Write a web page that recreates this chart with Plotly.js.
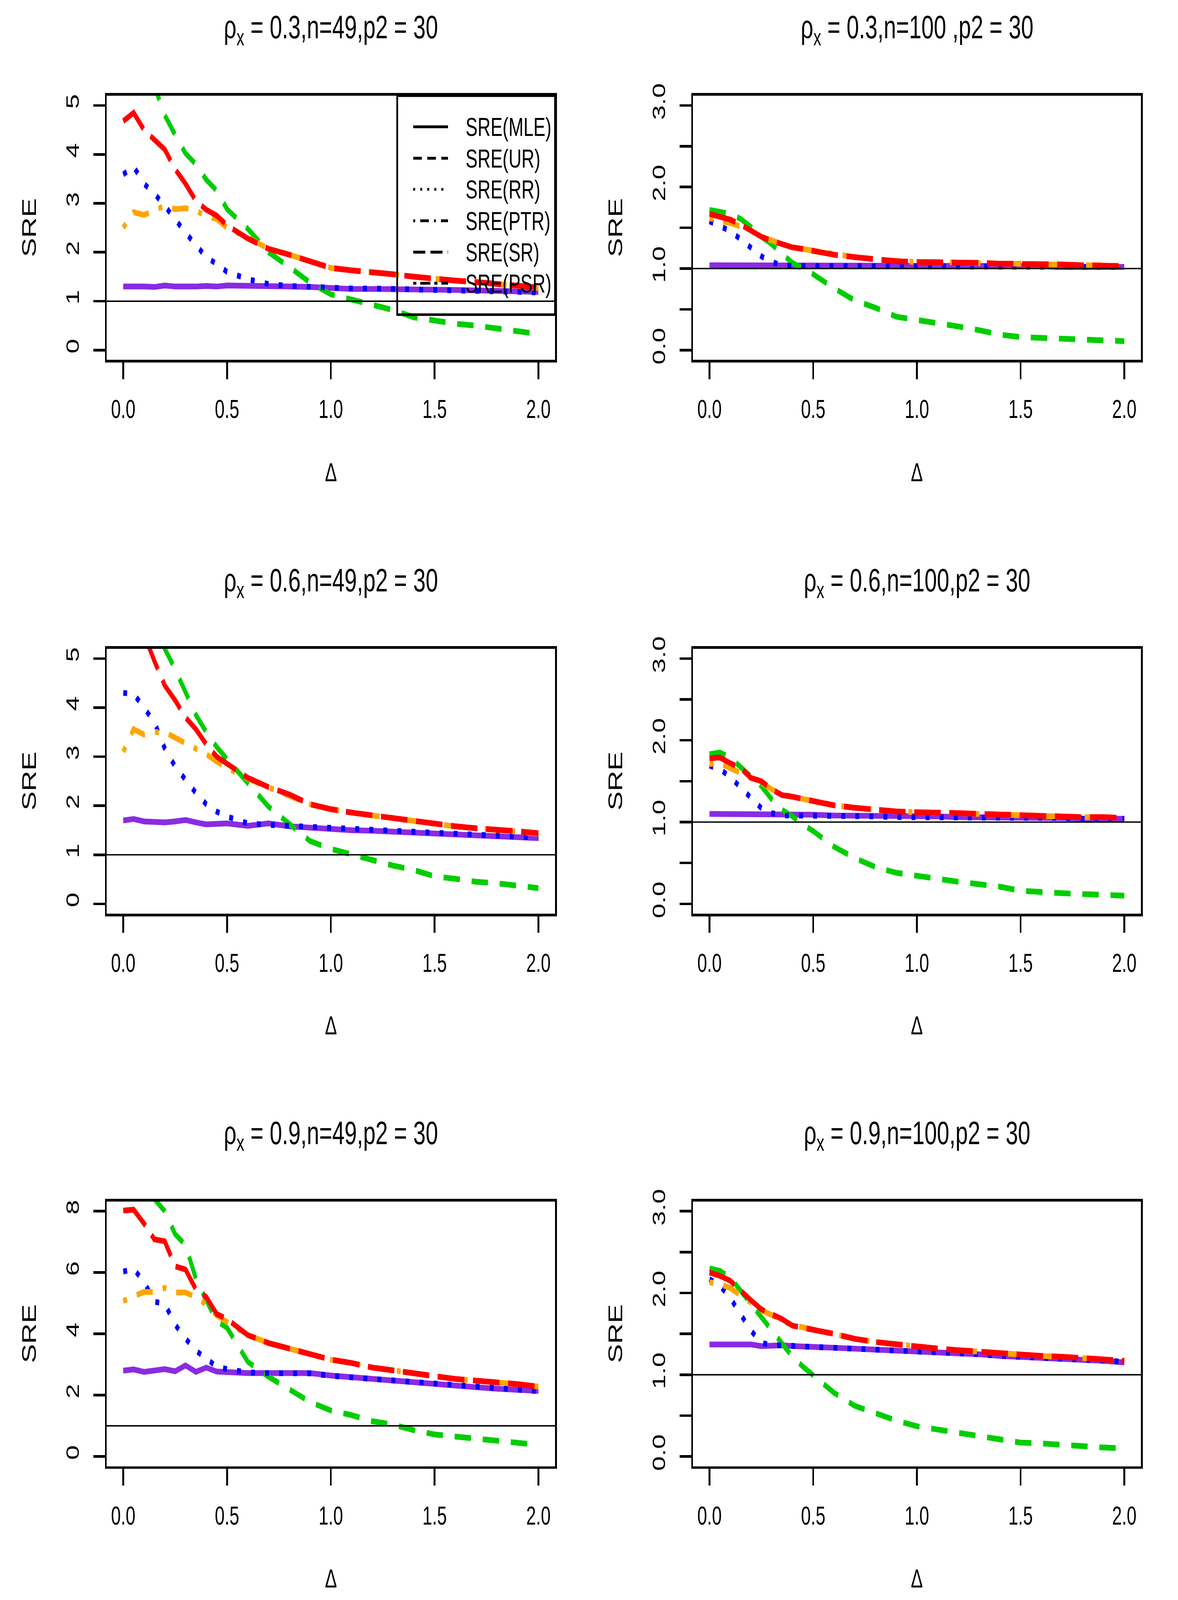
<!DOCTYPE html>
<html>
<head>
<meta charset="utf-8">
<script src="https://cdn.plot.ly/plotly-3.0.1.min.js"></script>
<style>
    html { margin: 0; padding: 0; overflow: hidden; background: #ffffff; }
    body { margin: 0; padding: 0; background: #ffffff; }
    #chart { position: absolute; left: 0; top: 0; width: 3016px; height: 2790px; transform-origin: 0 0; }
</style>
</head>
<body>
<div id="chart"></div>
<script>
// shift parameter on the x axis
const delta = [0, 0.05, 0.1, 0.15, 0.2, 0.25, 0.3, 0.35, 0.4, 0.45, 0.5,
    0.6, 0.7, 0.8, 0.9, 1.0, 1.1, 1.2, 1.3, 1.4, 1.5, 1.6, 1.7, 1.8, 1.9, 2.0];

const panelTitles = [
    'ρ<sub>x</sub> = 0.3,n=49,p2 = 30',
    'ρ<sub>x</sub> = 0.3,n=100 ,p2 = 30',
    'ρ<sub>x</sub> = 0.6,n=49,p2 = 30',
    'ρ<sub>x</sub> = 0.6,n=100,p2 = 30',
    'ρ<sub>x</sub> = 0.9,n=49,p2 = 30',
    'ρ<sub>x</sub> = 0.9,n=100,p2 = 30'
];

const legendNames = ['SRE(MLE)', 'SRE(UR)', 'SRE(RR)', 'SRE(PTR)', 'SRE(SR)', 'SRE(PSR)'];

const xTickVals = [0, 0.5, 1, 1.5, 2];
const xTickText = ['0.0', '0.5', '1.0', '1.5', '2.0'];
const yTickVals5 = [0, 1, 2, 3, 4, 5];
const yTickText5 = ['0', '1', '2', '3', '4', '5'];
const yTickVals8 = [0, 2, 4, 6, 8];
const yTickText8 = ['0', '2', '4', '6', '8'];
const yTickVals3 = [0, 1, 2, 3];
const yTickText3 = ['0.0', '1.0', '2.0', '3.0'];
const yMinorStep3 = 0.5;
const refLevel = 1;

// rho = 0.3, n = 49
const mle1 = [1.30, 1.31, 1.30, 1.29, 1.32, 1.30, 1.29, 1.30, 1.31, 1.30, 1.32, 1.32, 1.31, 1.30, 1.29, 1.26, 1.25, 1.25, 1.25, 1.25, 1.24, 1.23, 1.22, 1.21, 1.20, 1.19];
const ur1 = [7.0, 6.4, 5.9, 5.4, 4.8, 4.4, 4.02, 3.8, 3.48, 3.26, 2.88, 2.48, 2.0, 1.7, 1.38, 1.14, 1.03, 0.94, 0.82, 0.67, 0.6, 0.54, 0.5, 0.45, 0.4, 0.33];
const rr1 = [3.59, 3.75, 3.40, 3.20, 2.95, 2.67, 2.40, 2.15, 1.90, 1.76, 1.60, 1.45, 1.35, 1.31, 1.29, 1.27, 1.26, 1.26, 1.25, 1.25, 1.24, 1.23, 1.23, 1.22, 1.20, 1.18];
const ptr1 = [2.50, 2.82, 2.76, 2.85, 2.95, 2.88, 2.90, 2.85, 2.74, 2.68, 2.50, 2.30, 2.07, 1.95, 1.80, 1.68, 1.63, 1.60, 1.55, 1.50, 1.45, 1.42, 1.39, 1.35, 1.32, 1.27];
const sr1 = [4.68, 4.85, 4.50, 4.30, 4.10, 3.70, 3.40, 3.05, 2.87, 2.75, 2.55, 2.28, 2.07, 1.95, 1.80, 1.68, 1.63, 1.60, 1.55, 1.50, 1.45, 1.42, 1.39, 1.35, 1.32, 1.28];

// rho = 0.3, n = 100
const mle2 = [1.04, 1.04, 1.04, 1.04, 1.04, 1.04, 1.04, 1.04, 1.04, 1.04, 1.04, 1.04, 1.04, 1.04, 1.03, 1.03, 1.03, 1.03, 1.03, 1.03, 1.03, 1.03, 1.02, 1.02, 1.02, 1.02];
const ur2 = [1.72, 1.70, 1.67, 1.61, 1.51, 1.39, 1.30, 1.18, 1.07, 1.00, 0.93, 0.76, 0.61, 0.52, 0.41, 0.37, 0.335, 0.29, 0.245, 0.19, 0.16, 0.15, 0.14, 0.12, 0.115, 0.11];
const rr2 = [1.58, 1.52, 1.46, 1.36, 1.25, 1.15, 1.08, 1.04, 1.03, 1.03, 1.03, 1.03, 1.03, 1.03, 1.03, 1.03, 1.03, 1.03, 1.03, 1.03, 1.02, 1.02, 1.02, 1.02, 1.02, 1.02];
const ptr2 = [1.62, 1.58, 1.56, 1.52, 1.47, 1.39, 1.34, 1.30, 1.26, 1.24, 1.215, 1.17, 1.14, 1.11, 1.09, 1.08, 1.08, 1.07, 1.07, 1.06, 1.06, 1.05, 1.05, 1.04, 1.04, 1.03];
const sr2 = [1.67, 1.64, 1.60, 1.54, 1.47, 1.39, 1.34, 1.30, 1.26, 1.24, 1.215, 1.17, 1.14, 1.11, 1.09, 1.08, 1.08, 1.07, 1.07, 1.06, 1.06, 1.05, 1.05, 1.04, 1.04, 1.03];

// rho = 0.6, n = 49
const mle3 = [1.70, 1.73, 1.68, 1.67, 1.66, 1.68, 1.71, 1.66, 1.62, 1.63, 1.64, 1.59, 1.64, 1.58, 1.55, 1.52, 1.50, 1.49, 1.47, 1.45, 1.43, 1.41, 1.39, 1.37, 1.36, 1.34];
const ur3 = [7.5, 7.0, 6.4, 5.8, 5.2, 4.78, 4.30, 3.85, 3.50, 3.20, 2.95, 2.47, 1.98, 1.63, 1.28, 1.12, 1.00, 0.88, 0.78, 0.69, 0.56, 0.51, 0.45, 0.42, 0.36, 0.32];
const rr3 = [4.30, 4.28, 4.00, 3.70, 3.17, 2.80, 2.53, 2.26, 2.03, 1.88, 1.78, 1.64, 1.61, 1.59, 1.56, 1.53, 1.51, 1.49, 1.47, 1.45, 1.44, 1.42, 1.40, 1.38, 1.36, 1.35];
const ptr3 = [3.10, 3.56, 3.45, 3.50, 3.50, 3.39, 3.29, 3.18, 3.05, 2.90, 2.77, 2.55, 2.38, 2.23, 2.03, 1.93, 1.86, 1.80, 1.75, 1.68, 1.63, 1.58, 1.54, 1.51, 1.47, 1.43];
const sr3 = [6.30, 5.90, 5.50, 4.95, 4.45, 4.15, 3.80, 3.56, 3.25, 3.00, 2.86, 2.57, 2.38, 2.23, 2.03, 1.93, 1.86, 1.80, 1.75, 1.68, 1.63, 1.58, 1.54, 1.52, 1.48, 1.44];

// rho = 0.6, n = 100
const mle4 = [1.10, 1.10, 1.10, 1.10, 1.10, 1.10, 1.09, 1.09, 1.09, 1.09, 1.09, 1.08, 1.08, 1.08, 1.07, 1.07, 1.07, 1.06, 1.06, 1.06, 1.05, 1.05, 1.05, 1.04, 1.04, 1.04];
const ur4 = [1.83, 1.85, 1.79, 1.68, 1.56, 1.44, 1.28, 1.15, 1.07, 0.97, 0.89, 0.70, 0.56, 0.45, 0.38, 0.34, 0.30, 0.27, 0.24, 0.21, 0.16, 0.14, 0.13, 0.12, 0.11, 0.10];
const rr4 = [1.69, 1.65, 1.55, 1.42, 1.28, 1.17, 1.11, 1.08, 1.08, 1.08, 1.08, 1.07, 1.07, 1.07, 1.06, 1.06, 1.06, 1.06, 1.05, 1.05, 1.05, 1.05, 1.05, 1.04, 1.04, 1.04];
const ptr4 = [1.71, 1.72, 1.66, 1.60, 1.54, 1.48, 1.40, 1.34, 1.31, 1.28, 1.255, 1.205, 1.175, 1.15, 1.13, 1.12, 1.12, 1.11, 1.10, 1.09, 1.08, 1.07, 1.07, 1.06, 1.06, 1.05];
const sr4 = [1.78, 1.79, 1.72, 1.66, 1.54, 1.50, 1.40, 1.33, 1.31, 1.28, 1.255, 1.205, 1.175, 1.15, 1.13, 1.12, 1.12, 1.11, 1.10, 1.09, 1.08, 1.07, 1.07, 1.06, 1.06, 1.05];

// rho = 0.9, n = 49
const mle5 = [2.80, 2.84, 2.76, 2.80, 2.85, 2.78, 2.97, 2.76, 2.90, 2.77, 2.74, 2.72, 2.72, 2.72, 2.72, 2.64, 2.58, 2.53, 2.48, 2.43, 2.37, 2.31, 2.26, 2.21, 2.17, 2.14];
const ur5 = [10.8, 10.0, 9.2, 8.4, 8.0, 7.25, 6.9, 5.8, 5.1, 4.42, 4.2, 3.09, 2.6, 2.2, 1.78, 1.5, 1.35, 1.15, 1.04, 0.86, 0.72, 0.65, 0.58, 0.52, 0.46, 0.38];
const rr5 = [6.03, 6.12, 5.70, 5.05, 4.98, 4.30, 3.85, 3.45, 3.20, 2.93, 2.85, 2.74, 2.72, 2.72, 2.71, 2.63, 2.58, 2.53, 2.48, 2.43, 2.37, 2.31, 2.26, 2.22, 2.18, 2.13];
const ptr5 = [5.07, 5.22, 5.37, 5.36, 5.50, 5.35, 5.35, 5.20, 4.95, 4.60, 4.38, 3.96, 3.70, 3.52, 3.33, 3.16, 3.05, 2.90, 2.81, 2.70, 2.62, 2.53, 2.48, 2.44, 2.36, 2.28];
const sr5 = [8.02, 8.05, 7.60, 7.08, 7.02, 6.20, 6.10, 5.45, 5.20, 4.65, 4.48, 3.96, 3.70, 3.52, 3.33, 3.16, 3.05, 2.90, 2.81, 2.70, 2.62, 2.53, 2.48, 2.44, 2.36, 2.28];

// rho = 0.9, n = 100
const mle6 = [1.37, 1.37, 1.37, 1.36, 1.37, 1.35, 1.36, 1.36, 1.35, 1.34, 1.34, 1.33, 1.32, 1.31, 1.30, 1.28, 1.27, 1.26, 1.25, 1.23, 1.22, 1.21, 1.20, 1.18, 1.17, 1.15];
const ur6 = [2.30, 2.27, 2.19, 2.03, 1.87, 1.70, 1.55, 1.37, 1.22, 1.10, 0.99, 0.78, 0.62, 0.53, 0.44, 0.37, 0.33, 0.28, 0.25, 0.21, 0.17, 0.16, 0.14, 0.13, 0.11, 0.10];
const rr6 = [2.17, 2.09, 1.94, 1.73, 1.54, 1.39, 1.36, 1.36, 1.35, 1.34, 1.34, 1.33, 1.32, 1.31, 1.30, 1.28, 1.27, 1.26, 1.25, 1.23, 1.22, 1.21, 1.20, 1.19, 1.17, 1.16];
const ptr6 = [2.13, 2.11, 2.06, 1.97, 1.88, 1.79, 1.73, 1.67, 1.60, 1.58, 1.55, 1.50, 1.44, 1.40, 1.37, 1.35, 1.32, 1.30, 1.28, 1.26, 1.24, 1.23, 1.22, 1.20, 1.19, 1.17];
const sr6 = [2.25, 2.21, 2.15, 2.02, 1.91, 1.80, 1.74, 1.68, 1.60, 1.58, 1.55, 1.50, 1.44, 1.40, 1.37, 1.35, 1.32, 1.30, 1.28, 1.26, 1.24, 1.23, 1.22, 1.20, 1.19, 1.17];

const panels = [
    [mle1, ur1, rr1, ptr1, sr1],
    [mle2, ur2, rr2, ptr2, sr2],
    [mle3, ur3, rr3, ptr3, sr3],
    [mle4, ur4, rr4, ptr4, sr4],
    [mle5, ur5, rr5, ptr5, sr5],
    [mle6, ur6, rr6, ptr6, sr6]
];

// ---- styling -------------------------------------------------------------
// the chart is laid out at height H and stretched to the window height,
// which gives the tall narrow lettering of the original figure
const W = 3016;
const H = 2790;
const FONT = 'Liberation Sans, Arial, Helvetica, sans-serif';
const colours = ['#8a2be2', '#00cd00', '#0000ff', '#ffa500', '#ff0000'];
const dashes = ['solid', '42px,30px', '10px,26px', '10px,26px,42px,26px', '68px,22px'];
const legendDashes = ['solid', '22px,14px', '5px,13px', '5px,13px,22px,13px', '31px,13px', '8px,10px,26px,10px'];

// plot boxes in px
const colLeft = [273, 1774];
const colRight = [1421, 2921];
const rowTop = [166.8, 1131.2, 2094.9];
const rowBottom = [627.6, 1593.2, 2556.9];

const px = (x) => x / W;
const py = (y) => 1 - y / H;

let data = [];
let layout = {
    width: W,
    height: H,
    margin: {l: 0, r: 0, t: 0, b: 0},
    paper_bgcolor: '#ffffff',
    plot_bgcolor: '#ffffff',
    showlegend: false,
    font: {family: FONT, color: '#000000'},
    shapes: [],
    annotations: []
};

for (let i = 0; i < 6; i++) {
    const row = Math.floor(i / 2);
    const col = i % 2;
    const n = i + 1;
    const xName = n === 1 ? 'x' : 'x' + n;
    const yName = n === 1 ? 'y' : 'y' + n;

    panels[i].forEach((vals, k) => {
        data.push({
            x: delta,
            y: vals,
            xaxis: xName,
            yaxis: yName,
            type: 'scatter',
            mode: 'lines',
            line: {color: colours[k], width: 10, dash: dashes[k]},
            hoverinfo: 'skip'
        });
    });

    let yRange, yVals, yText, yMinor;
    if (col === 1) {
        yRange = [-0.12, 3.12]; yVals = yTickVals3; yText = yTickText3;
        yMinor = {dtick: yMinorStep3, tick0: 0, ticks: 'outside', ticklen: 30, tickwidth: 4.5, tickcolor: '#000000', showgrid: false};
    } else if (row === 2) {
        yRange = [-0.32, 8.32]; yVals = yTickVals8; yText = yTickText8;
    } else {
        yRange = [-0.2, 5.2]; yVals = yTickVals5; yText = yTickText5;
    }

    layout['xaxis' + (n === 1 ? '' : n)] = {
        domain: [px(colLeft[col]), px(colRight[col])],
        anchor: yName,
        range: [-0.08, 2.08],
        showgrid: false,
        zeroline: false,
        showline: true,
        mirror: true,
        linecolor: '#000000',
        linewidth: 4.5,
        ticks: 'outside',
        ticklen: 29,
        tickwidth: 4.5,
        tickcolor: '#000000',
        tickvals: xTickVals,
        ticktext: xTickText,
        ticklabelstandoff: 14,
        tickfont: {family: FONT, size: 45, color: '#000000'}
    };
    let yAxis = {
        domain: [py(rowBottom[row]), py(rowTop[row])],
        anchor: xName,
        range: yRange,
        showgrid: false,
        zeroline: false,
        showline: true,
        mirror: true,
        linecolor: '#000000',
        linewidth: 4.5,
        ticks: 'outside',
        ticklen: 30,
        tickwidth: 4.5,
        tickcolor: '#000000',
        tickvals: yVals,
        ticktext: yText,
        tickangle: -90,
        ticklabelstandoff: 18,
        tickfont: {family: FONT, size: 46, color: '#000000'}
    };
    if (yMinor) yAxis.minor = yMinor;
    layout['yaxis' + (n === 1 ? '' : n)] = yAxis;

    // reference line at SRE = 1
    layout.shapes.push({
        type: 'line',
        xref: xName + ' domain', yref: yName,
        x0: 0, x1: 1, y0: refLevel, y1: refLevel,
        line: {color: '#000000', width: 2.5},
        layer: 'above'
    });

    const cx = (colLeft[col] + colRight[col]) / 2;
    layout.annotations.push({
        text: panelTitles[i],
        xref: 'paper', yref: 'paper',
        x: px(cx), y: py(rowTop[row] - 116),
        xanchor: 'center', yanchor: 'middle',
        showarrow: false,
        font: {family: FONT, size: 57, color: '#000000'}
    });
    layout.annotations.push({
        text: 'Δ',
        xref: 'paper', yref: 'paper',
        x: px(cx), y: py(rowBottom[row] + 195),
        xanchor: 'center', yanchor: 'middle',
        showarrow: false,
        font: {family: FONT, size: 46, color: '#000000'}
    });
    layout.annotations.push({
        text: 'SRE',
        xref: 'paper', yref: 'paper',
        x: px(colLeft[col] - 198), y: py((rowTop[row] + rowBottom[row]) / 2),
        xanchor: 'center', yanchor: 'middle',
        textangle: -90,
        showarrow: false,
        font: {family: FONT, size: 50, color: '#000000'}
    });
}

// legend box inside the first panel
const legLeft = 1017, legTop = rowTop[0], legBottom = 548.7;
const legRowY = [221.1, 275.9, 330.1, 384.9, 439.7, 493.9];
layout.shapes.push({
    type: 'rect',
    xref: 'paper', yref: 'paper',
    x0: px(legLeft), x1: px(colRight[0]), y0: py(legBottom), y1: py(legTop),
    line: {color: '#000000', width: 4.5},
    fillcolor: 'rgba(0,0,0,0)',
    layer: 'above'
});
legendNames.forEach((name, k) => {
    layout.shapes.push({
        type: 'line',
        xref: 'paper', yref: 'paper',
        x0: px(1058), x1: px(1147), y0: py(legRowY[k]), y1: py(legRowY[k]),
        line: {color: '#000000', width: 5, dash: legendDashes[k]},
        layer: 'above'
    });
    layout.annotations.push({
        text: name,
        xref: 'paper', yref: 'paper',
        x: px(1190), y: py(legRowY[k]),
        xanchor: 'left', yanchor: 'middle',
        showarrow: false,
        font: {family: FONT, size: 46, color: '#000000'}
    });
});

// fit the drawing to the window
const vw = window.innerWidth || W;
const vh = window.innerHeight || 4632;
document.getElementById('chart').style.transform = 'scale(' + (vw / W) + ',' + (vh / H) + ')';

Plotly.newPlot('chart', data, layout, {displayModeBar: false, staticPlot: true});
</script>
</body>
</html>
